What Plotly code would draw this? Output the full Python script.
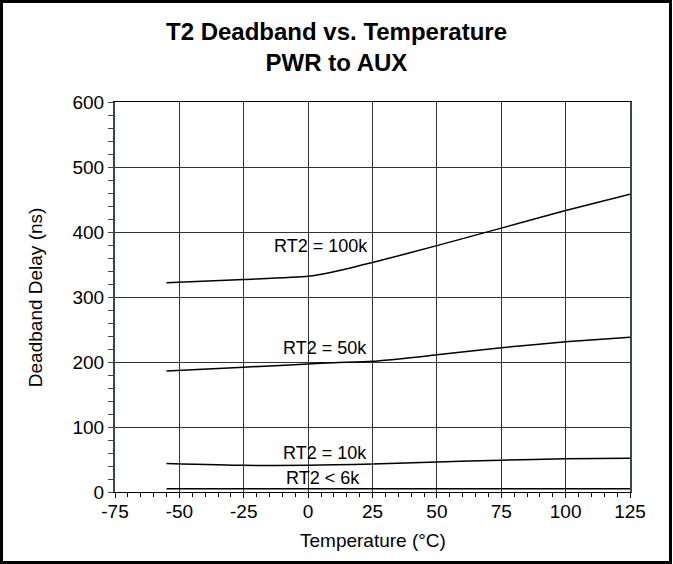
import plotly.graph_objects as go

temps = [-55, -25, 0, 10, 25, 50, 75, 100, 125]
rt2_100k = [322, 327, 332, 339, 353, 379, 406, 433, 458]
rt2_50k = [186, 192, 197, 199, 201, 211, 222, 231, 238]
rt2_10k = [44, 41, 41, 42, 43, 46, 49, 51, 52]
rt2_6k = [5, 5, 5, 5, 5, 5, 5, 5, 5]

labels = ["RT2 = 100k", "RT2 = 50k", "RT2 = 10k", "RT2 < 6k"]
label_x = [5.0, 6.6, 6.6, 5.6]
label_y = [379, 221, 60, 21]

x_ticks = [-75, -50, -25, 0, 25, 50, 75, 100, 125]
y_ticks = [0, 100, 200, 300, 400, 500, 600]

FONT = "Liberation Sans, Arial, sans-serif"

fig = go.Figure()
for ys in [rt2_100k, rt2_50k, rt2_10k, rt2_6k]:
    fig.add_trace(go.Scatter(x=temps, y=ys, mode="lines",
                             line=dict(color="black", width=1.5, shape="spline", smoothing=0.6),
                             showlegend=False, hoverinfo="skip"))

annotations = []
for t, lx, ly in zip(labels, label_x, label_y):
    annotations.append(dict(x=lx, y=ly, xref="x", yref="y", text=t, showarrow=False,
                            font=dict(size=18, color="black", family=FONT),
                            xanchor="center", yanchor="middle"))
annotations.append(dict(x=-0.155, y=0.5, xref="paper", yref="paper", text="Deadband Delay (ns)",
                        textangle=-90, showarrow=False, font=dict(size=19, color="black", family=FONT),
                        xanchor="center", yanchor="middle"))
annotations.append(dict(x=0.5, y=-0.1256, xref="paper", yref="paper", text="Temperature (°C)",
                        showarrow=False, font=dict(size=19, color="black", family=FONT),
                        xanchor="center", yanchor="middle"))

fig.update_layout(
    width=673, height=564,
    margin=dict(l=115, r=43, t=102, b=72),
    paper_bgcolor="white", plot_bgcolor="white",
    title=dict(text="<b>T2 Deadband vs. Temperature<br>PWR to AUX</b>",
               x=0.5, xref="container", y=1 - 40 / 564, yref="container",
               xanchor="center", yanchor="middle",
               font=dict(size=24, color="black", family=FONT)),
    annotations=annotations,
    shapes=[dict(type="rect", xref="paper", yref="paper",
                 x0=(1.5 - 115) / 515, x1=(670.5 - 115) / 515,
                 y0=(492 - 562.5) / 390, y1=(492 - 1.5) / 390,
                 line=dict(color="black", width=3), layer="above")],
)

fig.update_xaxes(range=[-75, 125], tickvals=x_ticks, ticktext=[str(v) for v in x_ticks],
                 showgrid=True, gridcolor="#333333", gridwidth=1, zeroline=False,
                 showline=True, linecolor="black", linewidth=1, mirror=True,
                 ticks="outside", ticklen=5, tickcolor="black", ticklabelstandoff=-3,
                 minor=dict(dtick=5, ticks="outside", ticklen=4, tickcolor="black", showgrid=False),
                 tickfont=dict(size=19, color="black", family=FONT))
fig.update_yaxes(range=[0, 600], tickvals=y_ticks, ticktext=[str(v) for v in y_ticks],
                 showgrid=True, gridcolor="#333333", gridwidth=1, zeroline=False,
                 showline=True, linecolor="#3c4848", linewidth=2, mirror=True,
                 ticks="outside", ticklen=5, tickcolor="#3c4848",
                 minor=dict(dtick=20, ticks="outside", ticklen=5, tickcolor="#3c4848", showgrid=False),
                 tickfont=dict(size=19, color="black", family=FONT))

fig.write_html("out.html", config={"displayModeBar": False},
               post_script="document.body.style.margin='0px';")
